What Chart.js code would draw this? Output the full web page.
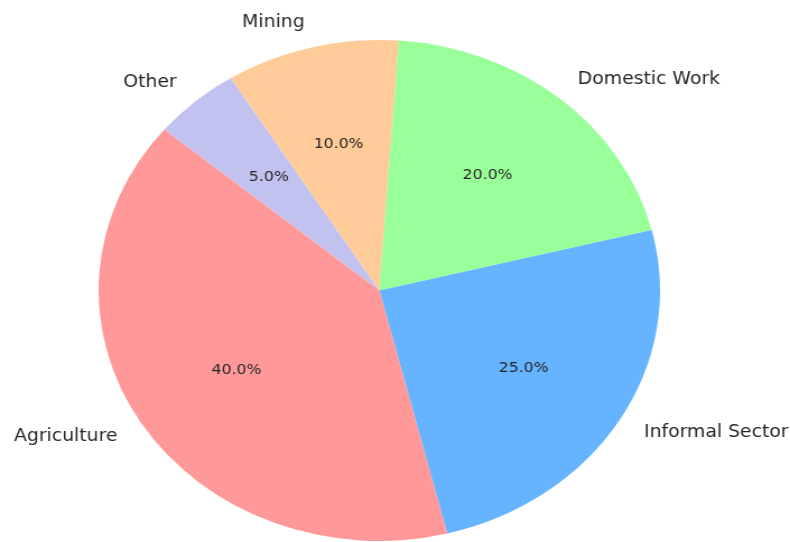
<!DOCTYPE html>
<html>
<head>
<meta charset="utf-8">
<script src="https://cdn.jsdelivr.net/npm/chart.js@4/dist/chart.umd.min.js"></script>
<style>
  html, body { margin: 0; padding: 0; background: #fff; overflow: hidden; }
  #wrap { width: 705px; height: 542px; transform: scaleX(1.1206); transform-origin: 0 0; }
</style>
</head>
<body>
<div id="wrap"><canvas id="pieChart" width="705" height="542"></canvas></div>
<script>
// Data (matplotlib order, counter-clockwise from 140deg)
const categories = ['Agriculture', 'Informal Sector', 'Domestic Work', 'Mining', 'Other'];
const shares = [40, 25, 20, 10, 5];
const sliceColors = ['#ff9999', '#66b3ff', '#99ff99', '#ffcc99', '#c2c2f0'];

// Chart.js draws clockwise, so reverse to keep the same layout
const drawLabels = categories.slice().reverse();
const drawValues = shares.slice().reverse();
const drawColors = sliceColors.slice().reverse();

// Outside labels + percentages, like matplotlib's autopct
const pieText = {
    id: 'pieText',
    afterDatasetsDraw(chart) {
        const ctx = chart.ctx;
        const meta = chart.getDatasetMeta(0);
        const total = drawValues.reduce((a, b) => a + b, 0);
        ctx.save();
        ctx.textBaseline = 'middle';
        meta.data.forEach((arc, i) => {
            const mid = (arc.startAngle + arc.endAngle) / 2;
            const r = arc.outerRadius;
            const cos = Math.cos(mid), sin = Math.sin(mid);

            ctx.fillStyle = '#262626';
            ctx.font = '16.8px "DejaVu Sans"';
            ctx.textAlign = cos > 0 ? 'left' : 'right';
            ctx.fillText(drawLabels[i], arc.x + cos * r * 1.1, arc.y + sin * r * 1.1);

            ctx.font = '14px "DejaVu Sans"';
            ctx.textAlign = 'center';
            const pct = (drawValues[i] / total * 100).toFixed(1) + '%';
            ctx.fillText(pct, arc.x + cos * r * 0.6, arc.y + sin * r * 0.6);
        });
        ctx.restore();
    }
};

new Chart(document.getElementById('pieChart').getContext('2d'), {
    type: 'pie',
    data: {
        labels: drawLabels,
        datasets: [{
            data: drawValues,
            backgroundColor: drawColors,
            borderWidth: 0,
            hoverOffset: 0
        }]
    },
    options: {
        responsive: false,
        animation: false,
        rotation: -50,
        layout: { padding: { top: 40, bottom: 1, left: 88, right: 116 } },
        plugins: { legend: { display: false }, tooltip: { enabled: false } }
    },
    plugins: [pieText]
});
</script>
</body>
</html>
